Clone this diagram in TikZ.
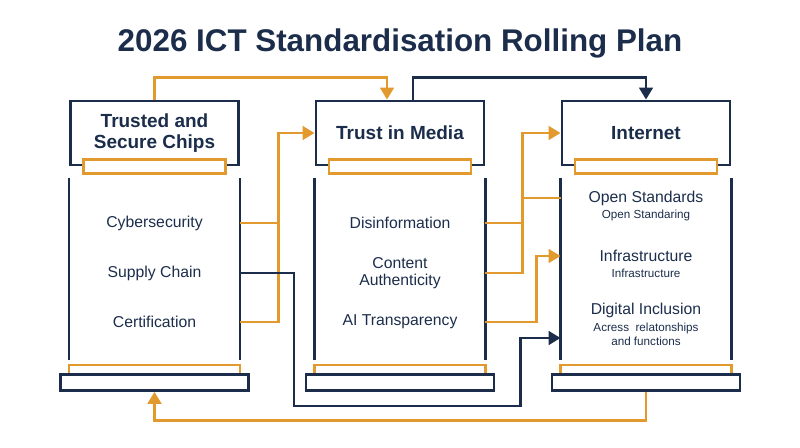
\documentclass[tikz,border=0pt]{standalone}
\usepackage{fontspec}
\setmainfont{Liberation Sans}
\usetikzlibrary{arrows.meta,positioning,calc}
\definecolor{pnavy}{HTML}{1B2D4B}
\definecolor{porange}{HTML}{E29A2E}
\tikzset{
  head/.style  = {draw=pnavy, line width=2pt, fill=white, minimum width=4.2cm,
                  minimum height=1.6cm, align=center, text=pnavy,
                  font=\fontsize{13.5}{15.5}\selectfont\bfseries},
  bar/.style   = {draw=porange, line width=2pt, fill=white, inner sep=0pt,
                  minimum width=3.55cm, minimum height=0.35cm},
  base/.style  = {draw=pnavy, line width=2pt, fill=white, inner sep=0pt,
                  minimum width=4.7cm, minimum height=0.4cm},
  item/.style  = {text=pnavy, align=center, font=\fontsize{11.2}{12.5}\selectfont},
  sub/.style   = {text=pnavy, align=center, font=\fontsize{8.3}{10}\selectfont},
  side/.style  = {pnavy, line width=2pt},
  oline/.style = {porange, line width=2pt},
  oflow/.style = {oline, -{Triangle[length=3mm,width=3.4mm]}},
  nline/.style = {pnavy, line width=2pt},
  nflow/.style = {nline, -{Triangle[length=3mm,width=3.4mm]}},
}

\begin{document}
\begin{tikzpicture}[x=0.025cm,y=-0.025cm]
\useasboundingbox (0,0) rectangle (800,447);
\node[text=pnavy,font=\fontsize{22.3}{26}\selectfont\bfseries] (title) at (400,43)
  {2026 ICT Standardisation Rolling Plan};
% column heads
\node[head] (h1) at (154.5,133) {Trusted and\\Secure Chips};
\node[head] (h2) at (400,133) {Trust in Media};
\node[head] (h3) at (646,133) {Internet};
\foreach \c in {1,2,3} {
  \node[bar] (r\c) at (h\c.south) {};
  \node[base] (b\c) at ($(h\c.south)+(0,216)$) {};
  \draw[side] ($(h\c.south west)+(0,12)$) -- ++(0,182);
  \draw[side] ($(h\c.south east)+(0,12)$) -- ++(0,182);
  \draw[oline] (b\c.north -| h\c.west) -- ++(0,-8) -| (b\c.north -| h\c.east);
}
% items
\node[item] (cyber) at (154.5,223) {Cybersecurity};
\node[item] (supply) at (154.5,273) {Supply Chain};
\node[item] (cert) at (154.5,322) {Certification};
\node[item] (disinfo) at (400,223) {Disinformation};
\node[item] (content) at (400,273) {Content\\Authenticity};
\node[item] (aitr) at (400,322) {AI Transparency};
\node[item] (openstd) at (646,198) {Open Standards};
\node[sub] (openstdsub) at (646,215) {Open Standaring};
\node[item] (infra) at (646,256) {Infrastructure};
\node[sub] (infrasub) at (646,273) {Infrastructure};
\node[item] (incl) at (646,310) {Digital Inclusion};
\node[sub] (inclsub) at (646,334) {Acress\ \ relatonships\\and functions};
% top links
\draw[oflow] (h1.north) -- ++(0,-22) -| ([xshift=-0.325cm]h2.north);
\draw[nflow] ([xshift=0.325cm]h2.north) -- ++(0,-22) -| (h3.north);
% chips -> media
\coordinate (j1) at ($(h2.west)+(-36,0)$);
\draw[oflow] (cert -| h1.east) -| (j1) -- (h2.west);
\draw[oline] (cyber -| h1.east) -- (cyber -| j1);
% supply chain -> digital inclusion
\coordinate (d1) at ($(supply -| h1.east)+(54,133)$);
\coordinate (d2) at ($(incl -| h3.west)+(-40,96)$);
\draw[nflow] (supply -| h1.east) -| (d1) -- (d2) |- ($(incl -| h3.west)+(0,28)$);
% media -> internet
\coordinate (j2) at ($(h3.west)+(-38,0)$);
\draw[oflow] (content -| h2.east) -| (j2) -- (h3.west);
\draw[oline] (disinfo -| h2.east) -- (disinfo -| j2);
\draw[oline] (openstd -| j2) -- (openstd -| h3.west);
\coordinate (j3) at ($(infra -| h3.west)+(-24,0)$);
\draw[oflow] (aitr -| h2.east) -| (j3) -- (infra -| h3.west);
% internet -> chips
\draw[oflow] (b3.south) -- ++(0,29) -| (b1.south);
\end{tikzpicture}
\end{document}
